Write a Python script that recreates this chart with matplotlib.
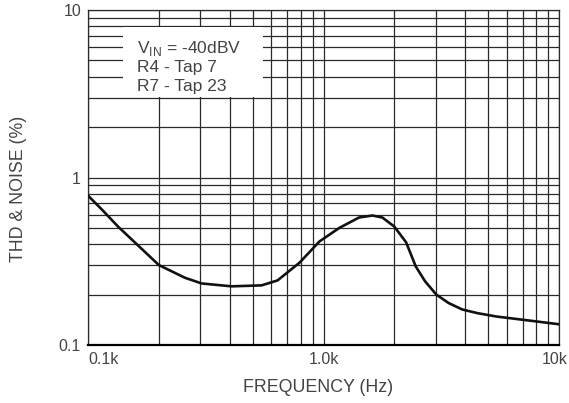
import matplotlib
matplotlib.use("Agg")
import matplotlib.pyplot as plt
from matplotlib.transforms import ScaledTranslation
from matplotlib.ticker import FixedLocator, NullFormatter, LogLocator

# THD+N vs frequency at -40dBV input
freq_hz = [100, 115, 134, 158, 200, 258, 304, 407, 546, 638, 791, 961, 1167,
           1416, 1613, 1777, 1997, 2243, 2466, 2700, 3013, 3400, 3880, 4500,
           5410, 7460, 10000]
thd_noise = [0.78, 0.64, 0.51, 0.41, 0.30, 0.252, 0.233, 0.224, 0.227, 0.243,
             0.31, 0.415, 0.50, 0.577, 0.593, 0.577, 0.51, 0.41, 0.294, 0.24,
             0.20, 0.178, 0.163, 0.155, 0.148, 0.140, 0.133]

x_ticks = [100, 1000, 10000]
x_ticklabels = ["0.1k", "1.0k", "10k"]
y_ticks = [0.1, 1, 10]
y_ticklabels = ["0.1", "1", "10"]
note_lines = ["V$_{\\mathregular{IN}}$ = -40dBV", "R4 - Tap 7", "R7 - Tap 23"]

plt.rcParams["font.family"] = ["Liberation Sans", "DejaVu Sans"]
text_col = "#444444"
grid_col = "#2a2a2a"

W, H = 569, 403
L, R, T, B = 88, 559, 10, 345

fig = plt.figure(figsize=(W / 100, H / 100), dpi=100)
ax = fig.add_axes([L / W, 1 - B / H, (R - L) / W, (B - T) / H])
ax.set_xscale("log")
ax.set_yscale("log")
ax.set_xlim(100, 10000)
ax.set_ylim(0.1, 10)

ax.xaxis.set_major_locator(FixedLocator(x_ticks))
ax.yaxis.set_major_locator(FixedLocator(y_ticks))
ax.xaxis.set_minor_locator(LogLocator(base=10, subs=range(2, 10)))
ax.yaxis.set_minor_locator(LogLocator(base=10, subs=range(2, 10)))
ax.xaxis.set_minor_formatter(NullFormatter())
ax.yaxis.set_minor_formatter(NullFormatter())
ax.set_xticklabels(x_ticklabels)
ax.set_yticklabels(y_ticklabels)
ax.tick_params(which="both", length=0, labelsize=11.5, labelcolor=text_col)
ax.tick_params(axis="x", pad=5)
ax.tick_params(axis="y", pad=5)
labels = ax.get_xticklabels()
labels[0].set_ha("left")
labels[-1].set_ha("right")
labels[-1].set_transform(labels[-1].get_transform()
                         + ScaledTranslation(9 / 100, 0, fig.dpi_scale_trans))

ax.grid(which="both", color=grid_col, lw=0.9)
ax.set_axisbelow(True)
for s in ax.spines.values():
    s.set_color(grid_col)
    s.set_linewidth(0.9)
ax.spines["bottom"].set_color("black")
ax.spines["bottom"].set_linewidth(1.6)

# white panel behind the test conditions
ax.add_patch(plt.Rectangle(((123 - L) / (R - L), (B - 97) / (B - T)),
                           140 / (R - L), 70 / (B - T), transform=ax.transAxes,
                           facecolor="white", edgecolor="none", zorder=1.5))
for i, line in enumerate(note_lines):
    ax.text((137 - L) / (R - L), (B - (52.5 + 19.5 * i)) / (B - T), line,
            transform=ax.transAxes, fontsize=12.5, color=text_col,
            va="baseline", ha="left", zorder=3)

ax.plot(freq_hz, thd_noise, color="#111111", lw=1.9, zorder=4)

fig.text(318 / W, 1 - 388 / H, "FREQUENCY (Hz)", fontsize=12.8,
         color=text_col, ha="center", va="center")
fig.text(19 / W, 1 - 189 / H, "THD & NOISE (%)", fontsize=12.8,
         color=text_col, ha="center", va="center", rotation=90)

fig.savefig("out.png", dpi=100)
